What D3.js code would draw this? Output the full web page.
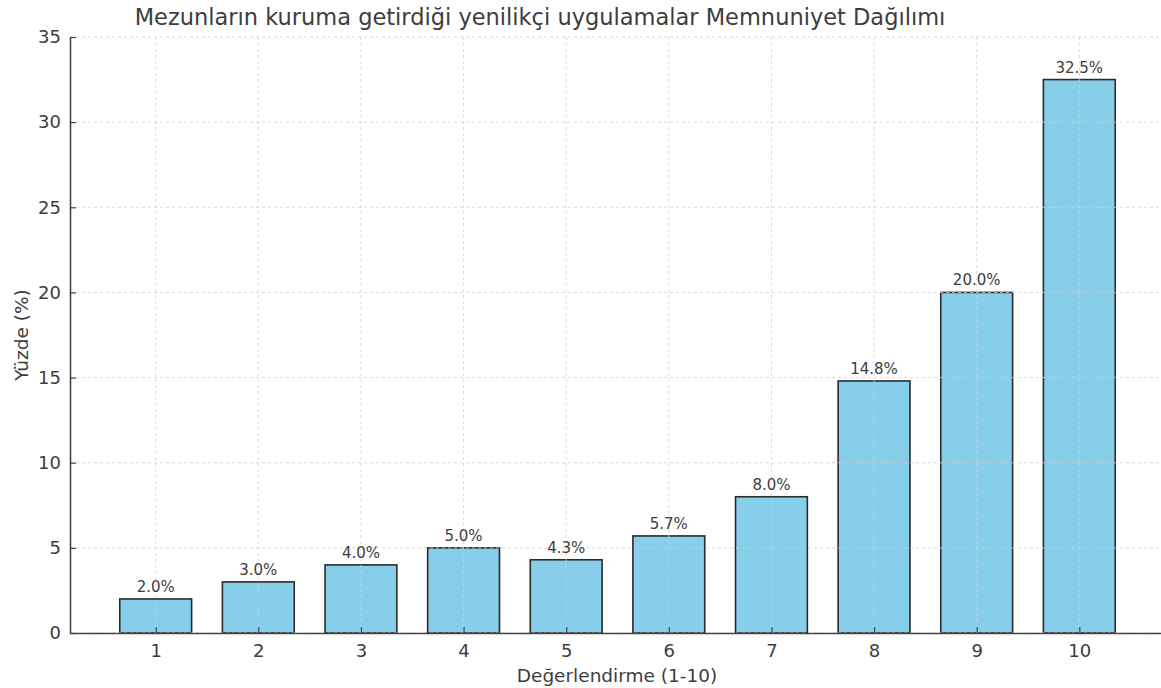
<!DOCTYPE html>
<meta charset="utf-8">
<head>
	<style>
		html, body { margin: 0; padding: 0; background: white; }
		text { font-family: "DejaVu Sans", sans-serif; fill: #3d3d3d; }
		.grid line { stroke: #d0d0d0; stroke-dasharray: 3,3; stroke-width: 0.8; }
		.bar { fill: #87ceeb; stroke: #2b2b2b; stroke-width: 1.6; }
	</style>
	<script src="https://d3js.org/d3.v7.min.js"></script>
</head>
<body>
	<script>

	// DATA
	var ratings = [1, 2, 3, 4, 5, 6, 7, 8, 9, 10];
	var percents = [2.0, 3.0, 4.0, 5.0, 4.3, 5.7, 8.0, 14.8, 20.0, 32.5];
	var yTicks = [0, 5, 10, 15, 20, 25, 30, 35];
	var title = 'Mezunların kuruma getirdiği yenilikçi uygulamalar Memnuniyet Dağılımı';

	// SETUP
	var W = 1161, H = 688,
		plotLeft = 70, plotRight = 1165, plotTop = 37, plotBottom = 633;

	var x = d3.scaleLinear().domain([0.165, 10.835]).range([plotLeft, plotRight]),
		y = d3.scaleLinear().domain([0, 35]).range([plotBottom, plotTop]),
		barW = x(0.7) - x(0);

	var svg = d3.select('body').append('svg')
		.attr('width', W)
		.attr('height', H);

	// BARS
	svg.selectAll('.bar')
		.data(ratings)
		.enter().append('rect')
		.attr('class', 'bar')
		.attr('x', function(d) { return x(d) - barW / 2; })
		.attr('y', function(d, i) { return y(percents[i]); })
		.attr('width', barW)
		.attr('height', function(d, i) { return y(0) - y(percents[i]); });

	// GRID (drawn above the bars)
	var grid = svg.append('g').attr('class', 'grid');
	grid.selectAll('.gx').data(ratings).enter().append('line')
		.attr('x1', function(d) { return x(d); })
		.attr('x2', function(d) { return x(d); })
		.attr('y1', plotTop).attr('y2', plotBottom);
	grid.selectAll('.gy').data(yTicks).enter().append('line')
		.attr('x1', plotLeft).attr('x2', plotRight)
		.attr('y1', function(d) { return y(d); })
		.attr('y2', function(d) { return y(d); });

	// AXES
	var xAxis = svg.append('g')
		.attr('transform', 'translate(0,' + plotBottom + ')')
		.call(d3.axisBottom(x).tickValues(ratings).tickSizeInner(-6).tickSizeOuter(0).tickPadding(11));

	var yAxis = svg.append('g')
		.attr('transform', 'translate(' + plotLeft + ',0)')
		.call(d3.axisLeft(y).tickValues(yTicks).tickSizeInner(-6).tickSizeOuter(0).tickPadding(9));

	[xAxis, yAxis].forEach(function(a) {
		a.select('.domain').attr('stroke', '#444').attr('stroke-width', 1.6);
		a.selectAll('.tick line').attr('stroke', '#444').attr('stroke-width', 1.2);
		a.selectAll('.tick text').attr('font-size', '18px').attr('fill', '#3d3d3d')
			.style('font-family', '"DejaVu Sans", sans-serif');
	});

	// VALUE LABELS
	svg.selectAll('.val')
		.data(ratings)
		.enter().append('text')
		.attr('x', function(d) { return x(d); })
		.attr('y', function(d, i) { return y(percents[i]) - 7; })
		.attr('text-anchor', 'middle')
		.attr('font-size', '15px')
		.text(function(d, i) { return percents[i].toFixed(1) + '%'; });

	// TITLES
	svg.append('text')
		.attr('x', 540).attr('y', 25)
		.attr('text-anchor', 'middle')
		.attr('font-size', '22.5px')
		.text(title);

	svg.append('text')
		.attr('x', 617).attr('y', 682)
		.attr('text-anchor', 'middle')
		.attr('font-size', '18.5px')
		.text('Değerlendirme (1-10)');

	svg.append('text')
		.attr('transform', 'translate(28,335) rotate(-90)')
		.attr('text-anchor', 'middle')
		.attr('font-size', '18.5px')
		.text('Yüzde (%)');

	</script>
</body>
